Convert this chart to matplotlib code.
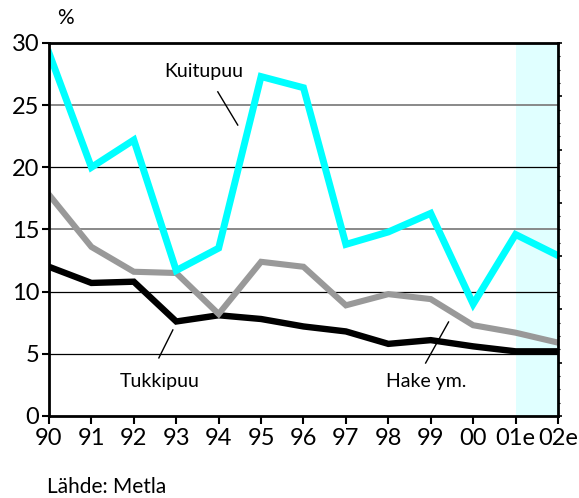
import matplotlib
matplotlib.use("Agg")
import matplotlib.pyplot as plt
import numpy as np

years = ["90", "91", "92", "93", "94", "95", "96", "97", "98", "99", "00", "01e", "02e"]
kuitupuu = [29.2, 20.0, 22.2, 11.7, 13.5, 27.3, 26.4, 13.8, 14.8, 16.3, 9.0, 14.6, 12.9]
hake = [17.8, 13.6, 11.6, 11.5, 8.2, 12.4, 12.0, 8.9, 9.8, 9.4, 7.3, 6.7, 5.9]
tukkipuu = [12.0, 10.7, 10.8, 7.6, 8.1, 7.8, 7.2, 6.8, 5.8, 6.1, 5.6, 5.2, 5.2]
yticks = [0, 5, 10, 15, 20, 25, 30]

plt.rcParams['font.family'] = ['Lato', 'DejaVu Sans']

fig = plt.figure(figsize=(5.79, 4.98), dpi=100)
ax = fig.add_axes([0.0846, 0.1647, 0.9637 - 0.0846, 0.9137 - 0.1647])
x = np.arange(len(years))

ax.axvspan(11, 12, color="#e0ffff", zorder=0, lw=0)
for v in yticks[1:-1]:
    c = "#808080" if v in (15, 25) else "black"
    lw = 1.3 if v in (15, 25) else 0.9
    ax.axhline(v, color=c, lw=lw, zorder=1)

ax.plot(x, tukkipuu, color="black", lw=4.6, zorder=3, solid_joinstyle="miter")
ax.plot(x, hake, color="#999999", lw=4.4, zorder=3, solid_joinstyle="miter")
ax.plot(x, kuitupuu, color="#00ffff", lw=5.0, zorder=4, solid_joinstyle="miter")

ax.set_xlim(0, 12)
ax.set_ylim(0, 30)
ax.set_xticks(x)
ax.set_xticklabels(years)
ax.set_yticks(yticks)
ax.tick_params(axis="both", labelsize=17, direction="out", width=1.5, colors="black")
ax.tick_params(axis="x", length=6, pad=3)
ax.tick_params(axis="y", length=5, pad=2)
for s in ax.spines.values():
    s.set_linewidth(2)
    s.set_color("black")
    s.set_zorder(5)

ax2 = ax.twinx()
ax2.set_ylim(0, 7)
ax2.set_yticks(np.arange(0, 8, 1))
ax2.set_yticks(np.arange(0, 7.01, 0.25), minor=True)
ax2.tick_params(axis="y", which="major", length=3, width=1.2, labelright=False)
ax2.tick_params(axis="y", which="minor", length=1.5, width=0.8)
for s in ax2.spines.values():
    s.set_visible(False)

ax.text(3.65, 27.7, "Kuitupuu", fontsize=14, ha="center", va="center")
ax.plot([3.98, 4.45], [26.07, 23.4], color="black", lw=1)
ax.text(2.61, 2.74, "Tukkipuu", fontsize=14, ha="center", va="center")
ax.plot([2.92, 2.59], [6.92, 4.67], color="black", lw=1)
ax.text(8.9, 2.74, "Hake ym.", fontsize=14, ha="center", va="center")
ax.plot([9.42, 8.88], [7.56, 4.26], color="black", lw=1)

fig.text(65 / 579, 1 - 18 / 498, "%", fontsize=15, ha="center", va="center")
fig.text(47 / 579, 1 - 487 / 498, "Lähde: Metla", fontsize=15, ha="left", va="center")

fig.savefig("out.png", dpi=100)
